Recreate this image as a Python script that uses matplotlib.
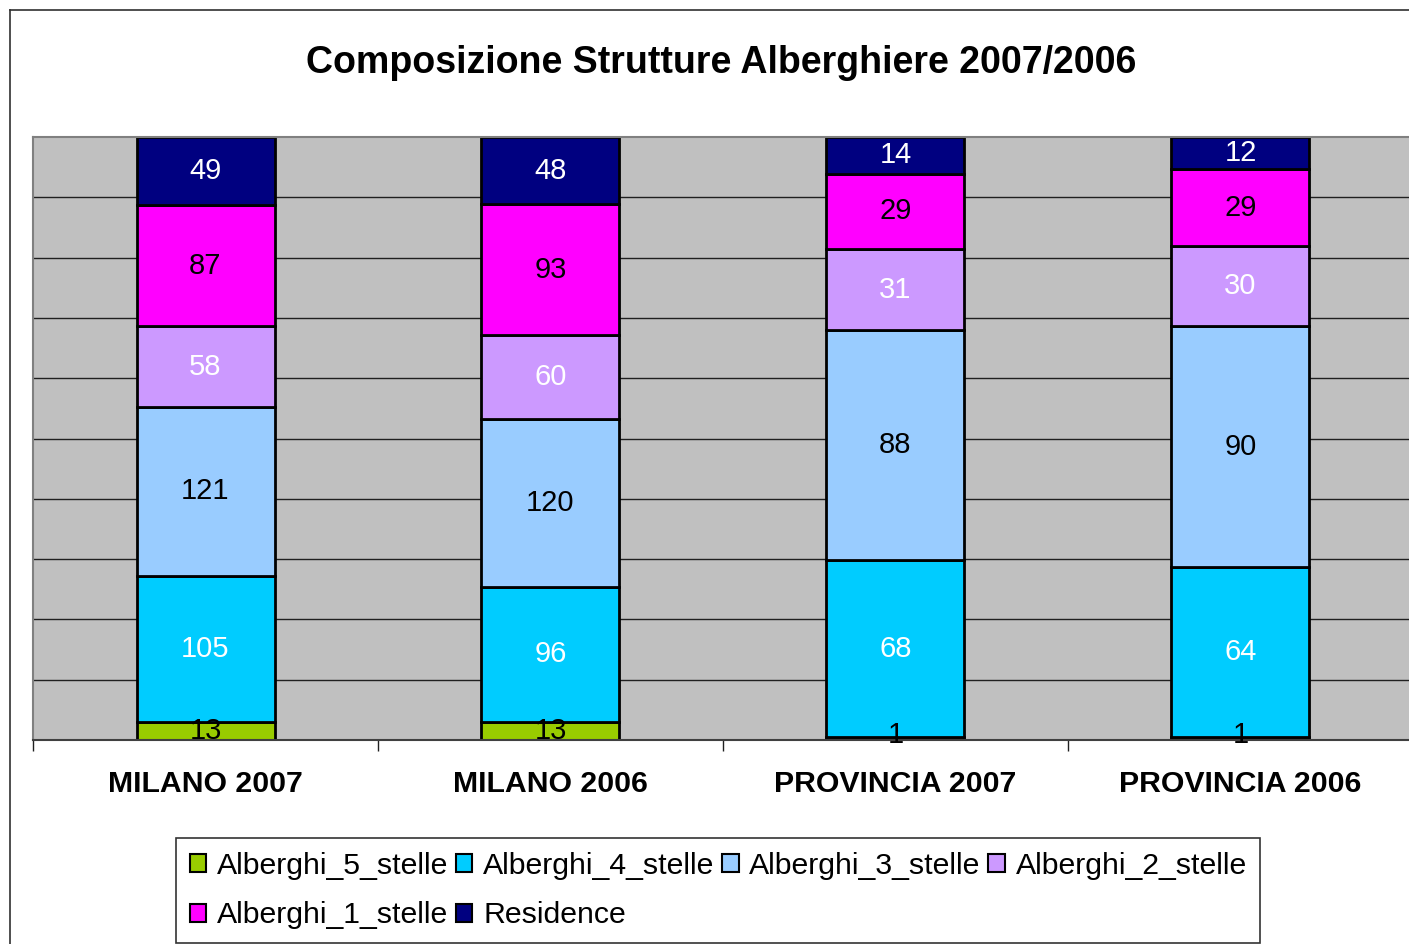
import matplotlib
matplotlib.use("Agg")
import matplotlib.pyplot as plt
import numpy as np
from matplotlib.lines import Line2D
from matplotlib.patches import Patch
from matplotlib.transforms import blended_transform_factory

plt.rcParams['font.family'] = ['Liberation Sans', 'DejaVu Sans']

categories = ["MILANO 2007", "MILANO 2006", "PROVINCIA 2007", "PROVINCIA 2006"]
series_names = ["Alberghi_5_stelle", "Alberghi_4_stelle", "Alberghi_3_stelle",
                "Alberghi_2_stelle", "Alberghi_1_stelle", "Residence"]
alberghi_5 = [13, 13, 1, 1]
alberghi_4 = [105, 96, 68, 64]
alberghi_3 = [121, 120, 88, 90]
alberghi_2 = [58, 60, 31, 30]
alberghi_1 = [87, 93, 29, 29]
residence = [49, 48, 14, 12]
colors = ["#99CC00", "#00CCFF", "#99CCFF", "#CC99FF", "#FF00FF", "#000080"]
label_colors = ["black", "white", "black", "white", "black", "white"]

series = [alberghi_5, alberghi_4, alberghi_3, alberghi_2, alberghi_1, residence]
vals = np.array(series, dtype=float)
totals = vals.sum(axis=0)
pct = vals / totals * 100

W, H = 1409, 944
fig = plt.figure(figsize=(W / 100, H / 100), dpi=100)
fig.patch.set_facecolor("white")

# outer chart frame
fig.add_artist(Line2D([10 / W, 10 / W], [0, 1 - 10 / H], color="#303030", lw=1.2,
                      transform=fig.transFigure))
fig.add_artist(Line2D([10 / W, 1], [1 - 10 / H, 1 - 10 / H], color="#303030", lw=1.2,
                      transform=fig.transFigure))

ax = fig.add_axes([33 / W, (H - 740) / H, 1380 / W, 603 / H])
ax.set_facecolor("#C0C0C0")
ax.set_xlim(-0.5, 3.5)
ax.set_ylim(0, 100)

for y in np.arange(10, 100, 10):
    ax.axhline(y, color="#202020", lw=1.0, zorder=1)

x = np.arange(len(categories))
bottom = np.zeros(len(categories))
for i, name in enumerate(series_names):
    ax.bar(x, pct[i], bottom=bottom, width=0.4, color=colors[i], edgecolor="black",
           linewidth=2, zorder=2, label=name)
    for j in range(len(categories)):
        yc = bottom[j] + pct[i][j] / 2
        if pct[i][j] < 2:
            yc = bottom[j] + 0.8
        ax.text(x[j], yc, f"{int(series[i][j])}", ha="center", va="center",
                fontsize=21, color=label_colors[i], zorder=3)
    bottom += pct[i]

for s in ["left", "top", "right"]:
    ax.spines[s].set_color("#808080")
    ax.spines[s].set_linewidth(1.5)
ax.spines["bottom"].set_color("#404040")
ax.spines["bottom"].set_linewidth(1.5)
ax.set_yticks([])
ax.set_xticks(np.arange(-0.5, 4, 1))
ax.set_xticklabels([])
ax.tick_params(axis="x", direction="out", length=8, width=1, color="#202020")

trans = blended_transform_factory(ax.transData, fig.transFigure)
for j, c in enumerate(categories):
    ax.text(x[j], 1 - 784 / H, c, transform=trans, ha="center", va="center",
            fontsize=21.8, fontweight="bold")

fig.text(721 / W, 1 - 63 / H, "Composizione Strutture Alberghiere 2007/2006",
         ha="center", va="center", fontsize=27, fontweight="bold")

handles = [Patch(facecolor=colors[i], edgecolor="black", linewidth=1.5) for i in range(6)]
order = [0, 4, 1, 5, 2, 3]
leg = fig.legend([handles[k] for k in order], [series_names[k] for k in order],
                 loc="upper left", bbox_to_anchor=(176 / W, 1 - 838 / H),
                 bbox_transform=fig.transFigure, ncol=4, fontsize=21.8,
                 frameon=True, fancybox=False, edgecolor="black",
                 handlelength=0.55, handleheight=0.55, handletextpad=0.35,
                 columnspacing=0.25, labelspacing=0.72, borderpad=0.45,
                 borderaxespad=0)
leg.get_frame().set_linewidth(1.2)

fig.savefig("out.png", dpi=100)
